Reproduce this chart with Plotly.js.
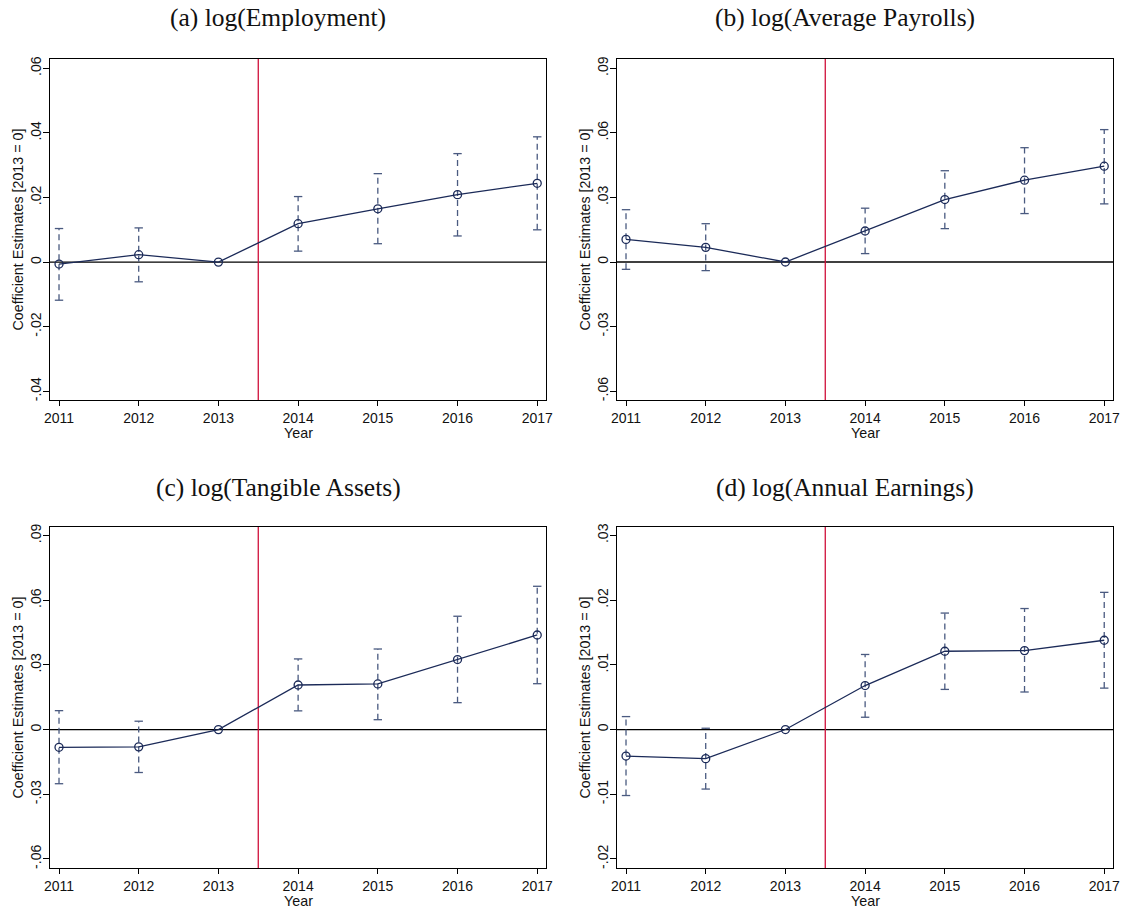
<!DOCTYPE html>
<html>
<head>
<meta charset="utf-8">
<script src="https://cdn.plot.ly/plotly-3.0.1.min.js"></script>
<style>html,body{margin:0;padding:0;background:#fff;}#chart{width:1125px;height:909px;}</style>
</head>
<body>
<div id="chart"></div>
<script>
// ---------- data ----------
const years = [2011, 2012, 2013, 2014, 2015, 2016, 2017];
const treatYear = 2013.5;

const panelTitles = ["(a) log(Employment)", "(b) log(Average Payrolls)", "(c) log(Tangible Assets)", "(d) log(Annual Earnings)"];
const yTitle = "Coefficient Estimates [2013 = 0]";
const xTitle = "Year";

const empCoef = [-0.0006, 0.0023, 0, 0.0119, 0.0165, 0.0209, 0.0244];
const empHi   = [0.0104, 0.0106, 0, 0.0203, 0.0274, 0.0336, 0.0388];
const empLo   = [-0.0118, -0.0061, 0, 0.0034, 0.0057, 0.0081, 0.0100];

const payCoef = [0.0105, 0.0068, 0, 0.0144, 0.0290, 0.0380, 0.0445];
const payHi   = [0.0243, 0.0178, 0, 0.0250, 0.0424, 0.0531, 0.0615];
const payLo   = [-0.0034, -0.0040, 0, 0.0039, 0.0155, 0.0225, 0.0270];

const tanCoef = [-0.0082, -0.0080, 0, 0.0207, 0.0212, 0.0325, 0.0439];
const tanHi   = [0.0088, 0.0039, 0, 0.0328, 0.0374, 0.0526, 0.0665];
const tanLo   = [-0.0251, -0.0199, 0, 0.0087, 0.0046, 0.0125, 0.0213];

const earnCoef = [-0.0041, -0.0045, 0, 0.0068, 0.0121, 0.0122, 0.0138];
const earnHi   = [0.0020, 0.0002, 0, 0.0116, 0.0180, 0.0187, 0.0212];
const earnLo   = [-0.0102, -0.0092, 0, 0.0019, 0.0062, 0.0058, 0.0064];

const empTickVals = [-0.04, -0.02, 0, 0.02, 0.04, 0.06];
const empTickText = ["-.04", "-.02", "0", ".02", ".04", ".06"];
const payTickVals = [-0.06, -0.03, 0, 0.03, 0.06, 0.09];
const payTickText = ["-.06", "-.03", "0", ".03", ".06", ".09"];
const tanTickVals = [-0.06, -0.03, 0, 0.03, 0.06, 0.09];
const tanTickText = ["-.06", "-.03", "0", ".03", ".06", ".09"];
const earnTickVals = [-0.02, -0.01, 0, 0.01, 0.02, 0.03];
const earnTickText = ["-.02", "-.01", "0", ".01", ".02", ".03"];

const yRanges = [[-0.0427, 0.0629], [-0.0641, 0.0943], [-0.0642, 0.0940], [-0.0214, 0.0313]];

// ---------- styling ----------
const lineColor = "#1b2a58";
const ciColor = "#4a5a80";
const redColor = "#d0103a";
const sans = "Liberation Sans, Arial, sans-serif";
const tickFont = {family: sans, size: 14, color: "#111"};
const labFont = {family: sans, size: 14.3, color: "#111"};

const panels = [
  {coef: empCoef, hi: empHi, lo: empLo, tv: empTickVals, tt: empTickText},
  {coef: payCoef, hi: payHi, lo: payLo, tv: payTickVals, tt: payTickText},
  {coef: tanCoef, hi: tanHi, lo: tanLo, tv: tanTickVals, tt: tanTickText},
  {coef: earnCoef, hi: earnHi, lo: earnLo, tv: earnTickVals, tt: earnTickText}
];

const W = 1125, H = 909;
const xDomains = [[50 / W, 546 / W], [617 / W, 1113 / W]];
const yDomains = [[1 - 400 / H, 1 - 59 / H], [1 - 868 / H, 1 - 527 / H]];
const titleX = [278 / W, 845 / W];
const titleY = [1 - 17 / H, 1 - 487 / H];
const yTitleX = [17 / W, 584 / W];
const xTitleY = [1 - 433 / H, 1 - 901 / H];

const traces = [];
const layout = {
  width: W, height: H,
  margin: {l: 0, r: 0, t: 0, b: 0},
  paper_bgcolor: "#fff", plot_bgcolor: "#fff",
  showlegend: false,
  shapes: [], annotations: []
};

panels.forEach((p, i) => {
  const col = i % 2, row = Math.floor(i / 2);
  const xa = i === 0 ? "x" : "x" + (i + 1);
  const ya = i === 0 ? "y" : "y" + (i + 1);
  const xk = i === 0 ? "xaxis" : "xaxis" + (i + 1);
  const yk = i === 0 ? "yaxis" : "yaxis" + (i + 1);

  const cx = [], cy = [], capX = [], capY = [];
  years.forEach((yr, k) => {
    if (p.hi[k] === p.lo[k]) return;
    cx.push(yr, yr, null); cy.push(p.lo[k], p.hi[k], null);
    capX.push(yr, yr); capY.push(p.lo[k], p.hi[k]);
  });
  traces.push({x: cx, y: cy, xaxis: xa, yaxis: ya, mode: "lines", type: "scatter",
    line: {color: ciColor, width: 1.3, dash: "6px,4px"}, hoverinfo: "skip"});
  traces.push({x: capX, y: capY, xaxis: xa, yaxis: ya, mode: "markers", type: "scatter",
    marker: {symbol: "line-ew-open", size: 6, color: ciColor, line: {color: ciColor, width: 1.3}}, hoverinfo: "skip"});
  traces.push({x: years, y: p.coef, xaxis: xa, yaxis: ya, mode: "lines+markers", type: "scatter",
    line: {color: lineColor, width: 1.3},
    marker: {symbol: "circle-open", size: 8, color: lineColor, line: {color: lineColor, width: 1.3}}});

  layout[xk] = {
    domain: xDomains[col], anchor: ya, range: [2010.887, 2017.11],
    tickvals: years, ticktext: years.map(String),
    ticks: "outside", ticklen: 5, tickwidth: 1, tickcolor: "#000",
    showline: true, linecolor: "#000", linewidth: 1.3, mirror: true,
    showgrid: false, zeroline: false, tickfont: tickFont
  };
  layout[yk] = {
    domain: yDomains[row], anchor: xa, range: yRanges[i],
    tickvals: p.tv, ticktext: p.tt, tickangle: -90, ticklabelstandoff: -4,
    ticks: "outside", ticklen: 6, tickwidth: 1, tickcolor: "#000",
    showline: true, linecolor: "#000", linewidth: 1.3, mirror: true,
    showgrid: false, zeroline: false, tickfont: tickFont
  };

  layout.shapes.push({type: "line", xref: xa + " domain", yref: ya, x0: 0, x1: 1, y0: 0, y1: 0,
    line: {color: "#000", width: 1.3}, layer: "below"});
  layout.shapes.push({type: "line", xref: xa, yref: ya + " domain", x0: treatYear, x1: treatYear, y0: 0, y1: 1,
    line: {color: redColor, width: 1.3}, layer: "below"});

  layout.annotations.push({text: panelTitles[i], xref: "paper", yref: "paper",
    x: titleX[col], y: titleY[row], xanchor: "center", yanchor: "middle", showarrow: false,
    font: {family: "Liberation Serif, Times New Roman, serif", size: 25.5, color: "#111"}});
  layout.annotations.push({text: yTitle, xref: "paper", yref: "paper", textangle: -90,
    x: yTitleX[col], y: (yDomains[row][0] + yDomains[row][1]) / 2, xanchor: "center", yanchor: "middle",
    showarrow: false, font: labFont});
  layout.annotations.push({text: xTitle, xref: xa + " domain", yref: "paper",
    x: 0.5, y: xTitleY[row], xanchor: "center", yanchor: "middle", showarrow: false, font: labFont});
});

Plotly.newPlot("chart", traces, layout, {staticPlot: true});
</script>
</body>
</html>
